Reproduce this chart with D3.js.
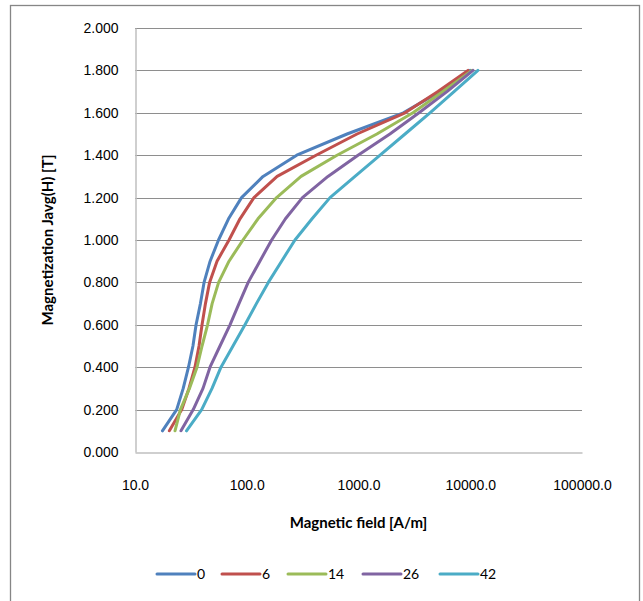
<!DOCTYPE html>
<html>
<head>
<meta charset="utf-8">
<script src="https://cdn.jsdelivr.net/npm/d3@7"></script>
<style>
  html, body { margin: 0; padding: 0; background: #fff; }
  svg { display: block; font-family: Lato, "Liberation Sans", sans-serif; }
</style>
</head>
<body>
<svg id="chart" width="643" height="601"></svg>
<script>
// Magnetization levels (T) at which each curve was sampled
const J = [0.1, 0.2, 0.3, 0.4, 0.5, 0.6, 0.7, 0.8, 0.9, 1.0, 1.1, 1.2, 1.3, 1.4, 1.5, 1.6, 1.7, 1.8];

// Magnetic field (A/m) needed for each level, one array per series
const H_0  = [17.6, 23.6, 27.0, 30.1, 33.0, 35.2, 38.5, 41.5, 47.0, 55.9, 68.7, 89.8, 140, 280, 790, 2520, 5360, 9950];
const H_6  = [20.3, 26.2, 30.4, 34.4, 37.4, 39.8, 42.7, 46.5, 54.2, 69.4, 87.0, 116, 187, 417, 970, 2610, 5140, 9550];
const H_14 = [22.8, 25.5, 30.7, 35.9, 39.8, 44.6, 49.0, 56.0, 69.4, 92.5, 126, 185, 306, 642, 1460, 3070, 5700, 10370];
const H_26 = [25.8, 33.2, 40.6, 46.9, 57.6, 70.8, 85.2, 103, 131, 167, 222, 315, 533, 990, 1910, 3480, 6190, 10590];
const H_42 = [28.9, 39.5, 48.9, 58.8, 75.3, 96.4, 122, 156, 205, 270, 384, 556, 930, 1560, 2610, 4360, 7160, 11720];

const seriesNames = ["0", "6", "14", "26", "42"];
const seriesH = [H_0, H_6, H_14, H_26, H_42];
const colors = ["#4F81BD", "#C0504D", "#9BBB59", "#8064A2", "#4BACC6"];

const xTicks = [10, 100, 1000, 10000, 100000];
const yTicks = [0, 0.2, 0.4, 0.6, 0.8, 1.0, 1.2, 1.4, 1.6, 1.8, 2.0];

const xTitle = "Magnetic field [A/m]";
const yTitle = "Magnetization Javg(H) [T]";

const svg = d3.select("#chart");
const plot = { left: 135, top: 28, right: 582, bottom: 452 };

// chart area frame
svg.append("rect")
  .attr("x", 10.5).attr("y", 5.5)
  .attr("width", 629).attr("height", 620)
  .attr("fill", "#fff").attr("stroke", "#868686").attr("stroke-width", 1.3);

const x = d3.scaleLog().domain([10, 100000]).range([plot.left, plot.right]);
const y = d3.scaleLinear().domain([0, 2]).range([plot.bottom, plot.top]);

// horizontal gridlines
svg.append("g")
  .selectAll("line")
  .data(yTicks.filter(d => d > 0))
  .join("line")
  .attr("x1", plot.left).attr("x2", plot.right)
  .attr("y1", d => Math.round(y(d)) + 0.5).attr("y2", d => Math.round(y(d)) + 0.5)
  .attr("stroke", "#8e8e8e").attr("stroke-width", 1);

// y axis
const yAxis = d3.axisLeft(y).tickValues(yTicks).tickFormat(d3.format(".3f")).tickSize(0).tickPadding(17);
const gy = svg.append("g").attr("transform", `translate(${plot.left + 0.5},0)`).call(yAxis);
gy.select(".domain").attr("stroke", "#bfbfbf").attr("stroke-width", 1.5);
gy.selectAll("text").attr("font-size", 14).attr("fill", "#000");

// x axis
const xAxis = d3.axisBottom(x).tickValues(xTicks).tickFormat(d3.format(".1f")).tickSize(0).tickPadding(28);
const gx = svg.append("g").attr("transform", `translate(0,${plot.bottom + 0.5})`).call(xAxis);
gx.select(".domain").attr("stroke", "#bfbfbf").attr("stroke-width", 1.5);
gx.selectAll("text").attr("font-size", 14).attr("fill", "#000");

// series curves
const line = d3.line()
  .x(d => x(d.h))
  .y(d => y(d.j));

const series = seriesNames.map((name, i) => ({
  name,
  color: colors[i],
  points: J.map((j, k) => ({ j, h: seriesH[i][k] }))
}));

svg.append("g")
  .selectAll("path")
  .data(series)
  .join("path")
  .attr("d", d => line(d.points))
  .attr("fill", "none")
  .attr("stroke", d => d.color)
  .attr("stroke-width", 3)
  .attr("stroke-linejoin", "round")
  .attr("stroke-linecap", "round");

// axis titles
svg.append("text")
  .attr("x", (plot.left + plot.right) / 2).attr("y", 528)
  .attr("text-anchor", "middle")
  .attr("font-size", 15).attr("font-weight", "bold")
  .text(xTitle);

svg.append("text")
  .attr("transform", `translate(53,${(plot.top + plot.bottom) / 2}) rotate(-90)`)
  .attr("text-anchor", "middle")
  .attr("font-size", 15).attr("font-weight", "bold")
  .text(yTitle);

// legend
const legendX = [157, 222, 288, 363, 440];
const lg = svg.append("g").selectAll("g")
  .data(series)
  .join("g")
  .attr("transform", (d, i) => `translate(${legendX[i]},574)`);
lg.append("line")
  .attr("x1", 0).attr("x2", 38).attr("y1", 0).attr("y2", 0)
  .attr("stroke", d => d.color).attr("stroke-width", 3).attr("stroke-linecap", "round");
lg.append("text")
  .attr("x", 40).attr("y", 5)
  .attr("font-size", 14)
  .text(d => d.name);
</script>
</body>
</html>
